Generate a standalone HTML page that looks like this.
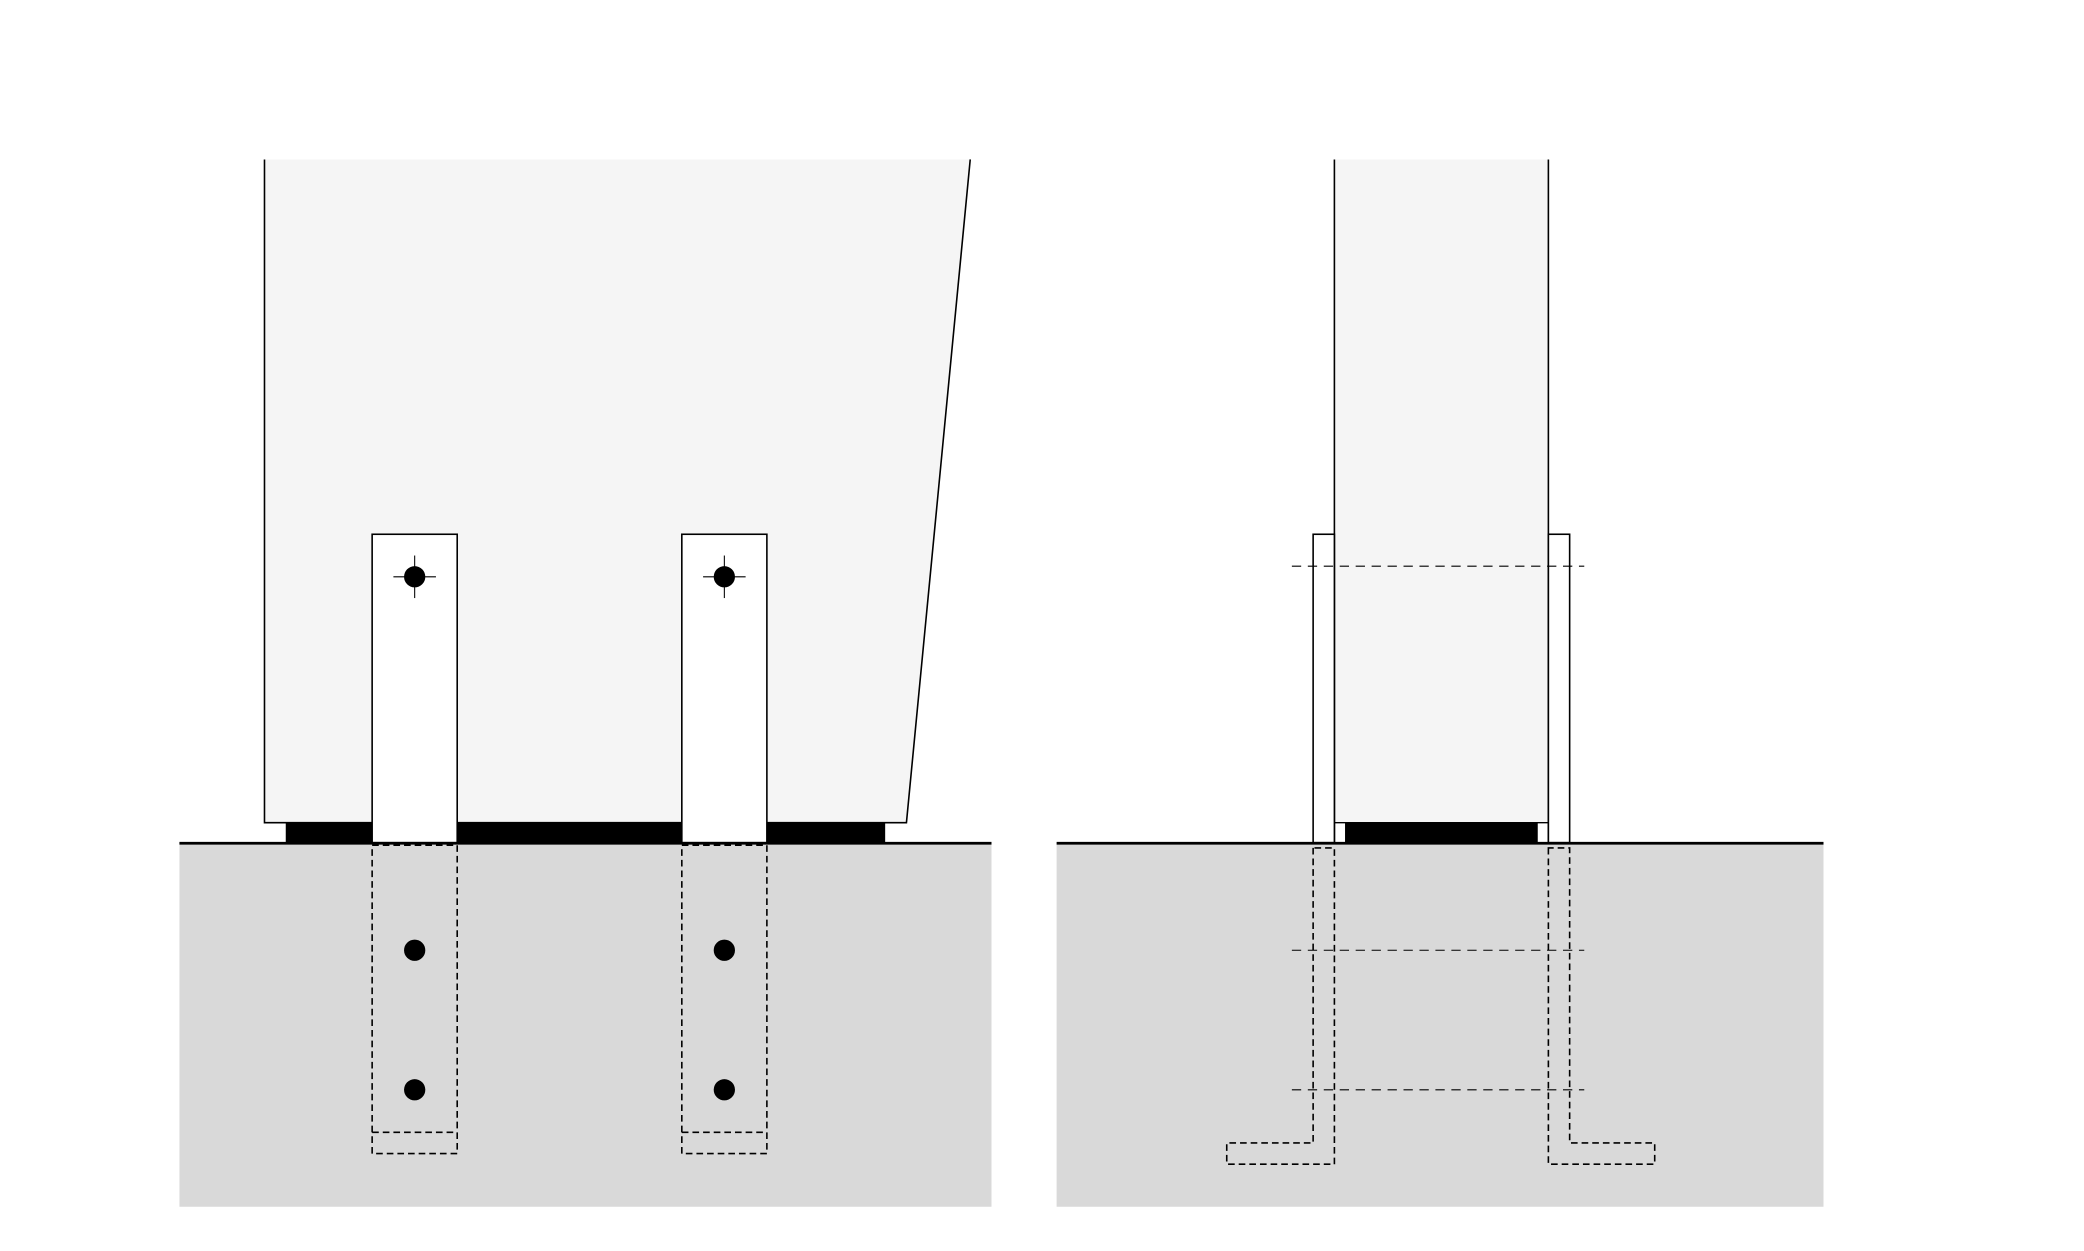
<!DOCTYPE html>
<html><head><meta charset="utf-8"><style>html,body{margin:0;padding:0;background:#fff}svg{display:block}</style></head>
<body>
<svg width="2084" height="1251" viewBox="0 0 1568 941.3" preserveAspectRatio="none" xmlns="http://www.w3.org/2000/svg">
<rect x="0" y="0" width="1568" height="941.3" fill="#fff"/>
<!-- LEFT -->
<rect x="135" y="634" width="611" height="274" fill="#d9d9d9"/>
<polygon points="199,120 730,120 682,619 199,619" fill="#f5f5f5"/>
<polyline points="199,120 199,619 682,619 730,120" fill="none" stroke="#000" stroke-width="1.2"/>
<rect x="215" y="619" width="451" height="15" fill="#000"/>
<line x1="135" y1="634.5" x2="746" y2="634.5" stroke="#000" stroke-width="2"/>
<rect x="280" y="402" width="64" height="232" fill="#fff" stroke="#000" stroke-width="1.2"/>
<rect x="513" y="402" width="64" height="232" fill="#fff" stroke="#000" stroke-width="1.2"/>
<g fill="#000">
<circle cx="312" cy="434" r="8"/><circle cx="545" cy="434" r="8"/>
<circle cx="312" cy="715" r="8"/><circle cx="312" cy="820" r="8"/>
<circle cx="545" cy="715" r="8"/><circle cx="545" cy="820" r="8"/>
</g>
<g stroke="#000" stroke-width="0.8">
<line x1="296" y1="434" x2="328" y2="434"/><line x1="312" y1="418" x2="312" y2="450"/>
<line x1="529" y1="434" x2="561" y2="434"/><line x1="545" y1="418" x2="545" y2="450"/>
</g>
<g fill="none" stroke="#000" stroke-width="1.2" stroke-dasharray="5,3">
<rect x="280" y="636" width="64" height="232"/><line x1="280" y1="852" x2="344" y2="852"/>
<rect x="513" y="636" width="64" height="232"/><line x1="513" y1="852" x2="577" y2="852"/>
</g>
<!-- RIGHT -->
<rect x="795" y="634" width="577" height="274" fill="#d9d9d9"/>
<rect x="1004" y="120" width="161" height="499" fill="#f5f5f5"/>
<polyline points="1004,120 1004,634" fill="none" stroke="#000" stroke-width="1.2"/>
<polyline points="1165,120 1165,634" fill="none" stroke="#000" stroke-width="1.2"/>
<line x1="1004" y1="619" x2="1165" y2="619" stroke="#000" stroke-width="1"/>
<rect x="1012" y="619" width="145" height="15" fill="#000"/>
<line x1="795" y1="634.5" x2="1372" y2="634.5" stroke="#000" stroke-width="2"/>
<rect x="988" y="402" width="16" height="232" fill="#fff" stroke="#000" stroke-width="1.2"/>
<rect x="1165" y="402" width="16" height="232" fill="#fff" stroke="#000" stroke-width="1.2"/>
<g stroke="#000" stroke-width="0.8" stroke-dasharray="7,5">
<line x1="972" y1="426" x2="1192" y2="426"/>
<line x1="972" y1="715" x2="1192" y2="715"/>
<line x1="972" y1="820" x2="1192" y2="820"/>
</g>
<g fill="none" stroke="#000" stroke-width="1.2" stroke-dasharray="5,3">
<polygon points="988,638 988,860 923,860 923,876 1004,876 1004,638"/>
<polygon points="1165,638 1165,876 1245,876 1245,860 1181,860 1181,638"/>
</g>
</svg>
</body></html>
